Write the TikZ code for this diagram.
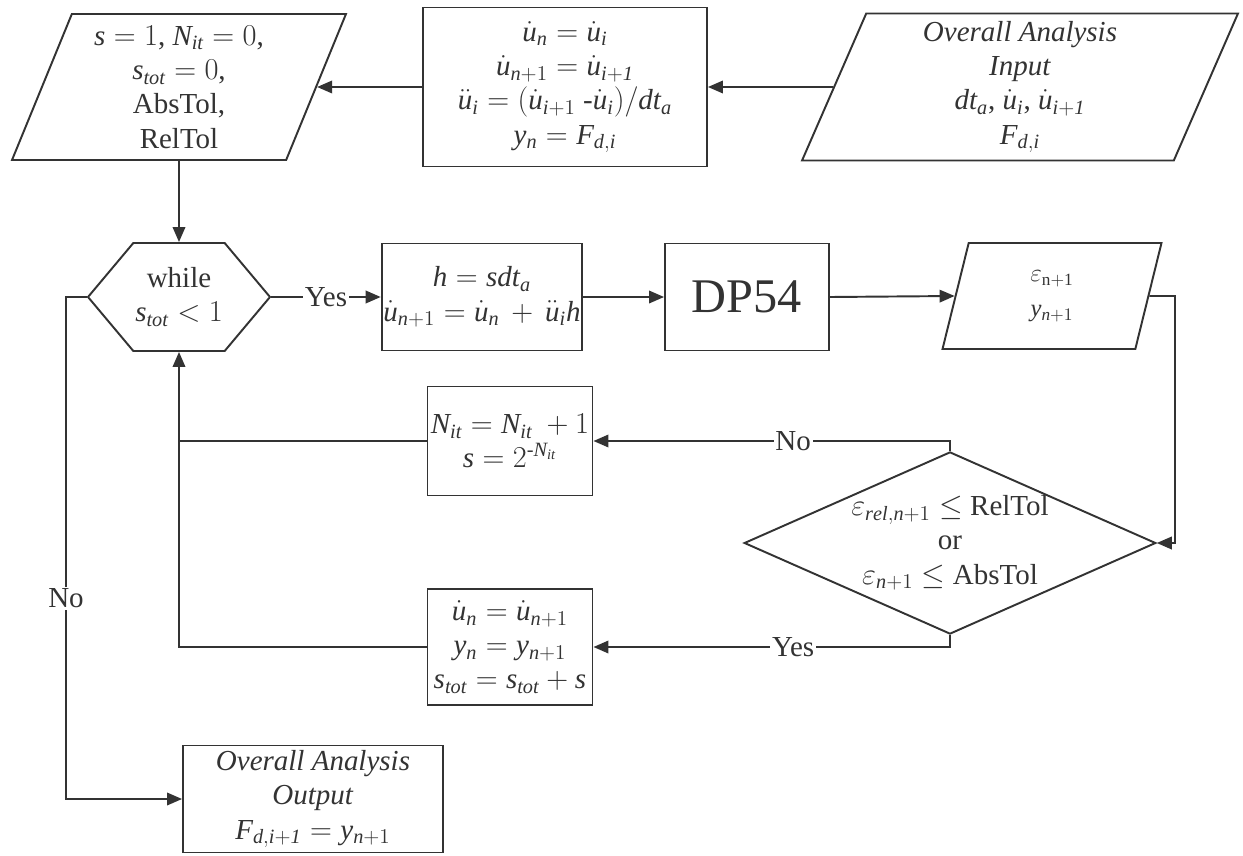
\documentclass[tikz,border=0pt]{standalone}
\usepackage{amsmath}
\usepackage{fontspec}
\setmainfont{Liberation Serif}
\usetikzlibrary{positioning,arrows.meta,calc,shapes.geometric,shapes.symbols}
\definecolor{ink}{HTML}{333333}

\begin{document}
\begin{tikzpicture}[
      x=0.02cm, y=-0.02cm,
      font=\fontsize{16.5}{19.5}\selectfont,
      flowbox/.style={draw=ink, line width=1.1pt, fill=white, text=ink,
                      rectangle, align=center, inner sep=1pt},
      iobox/.style={draw=ink, line width=1.1pt, fill=white, text=ink,
                    trapezium, trapezium stretches body, align=center,
                    inner sep=0pt, trapezium left angle=64,
                    trapezium right angle=116},
      loopbox/.style={draw=ink, line width=1.1pt, fill=white, text=ink,
                      signal, signal to=west and east, signal pointer angle=100,
                      align=center, inner sep=0pt},
      checkbox/.style={draw=ink, line width=1.1pt, fill=white, text=ink,
                       diamond, aspect=2.26, align=center, inner sep=0pt},
      link/.style={-{Triangle[length=3mm, width=2.5mm]}, line width=1.1pt, color=ink},
      plain/.style={line width=1.1pt, color=ink},
      lbl/.style={fill=white, text=ink, inner sep=1pt},
    ]
      \useasboundingbox (0,0) rectangle (1243,855);

      \node[iobox, minimum width=6.68cm, minimum height=2.92cm] (init) at (179,87) {
        $\mathit{s} = 1$, $\mathit{N_{it}} = 0$,\\
        $\mathit{s_{tot}} = 0$,\\
        AbsTol,\\
        RelTol
      };

      \node[flowbox, minimum width=5.68cm, minimum height=3.18cm] (update) at (565,87) {
        $\dot{\mathit{u}}_{\mathit{n}} = \dot{\mathit{u}}_{\mathit{i}}$\\
        $\dot{\mathit{u}}_{\mathit{n}+1} = \dot{\mathit{u}}_{\mathit{i+1}}$\\
        $\ddot{\mathit{u}}_{\mathit{i}} = (\dot{\mathit{u}}_{\mathit{i}+1}$ -$\dot{\mathit{u}}_{\mathit{i}})/\mathit{dt_a}$\\
        $\mathit{y_n} = \mathit{F_{d,i}}$
      };

      \node[iobox, minimum width=8.72cm, minimum height=2.94cm] (input) at (1020,87) {
        \textit{Overall Analysis}\\
        \textit{Input}\\
        $\mathit{dt_a}$, $\dot{\mathit{u}}_{\mathit{i}}$, $\dot{\mathit{u}}_{\mathit{i+1}}$\\
        $\mathit{F_{d,i}}$
      };

      \node[loopbox, minimum width=3.64cm, minimum height=2.16cm] (while) at (179,297) {
        while\\
        $\mathit{s_{tot}} < 1$
      };

      \node[flowbox, minimum width=3.78cm, minimum height=2.14cm] (stepsize) at (482,297) {
        $\mathit{h} = \mathit{sdt_a}$\\
        $\dot{\mathit{u}}_{\mathit{n}+1} = \dot{\mathit{u}}_{\mathit{n}}\, +\, \ddot{\mathit{u}}_{\mathit{i}}\mathit{h}$
      };

      \node[flowbox, minimum width=3.28cm, minimum height=2.14cm,
            font=\fontsize{27.5}{30}\selectfont] (dp) at (747,297) {DP54};

      \node[iobox, minimum width=4.38cm, minimum height=2.12cm,
            trapezium left angle=63, trapezium right angle=117,
            font=\fontsize{14}{20}\selectfont] (err) at (1052,296) {
        $\varepsilon_{\mathrm{n+1}}$\\
        $\mathit{y}_{\mathit{n}+1}$
      };

      \node[checkbox, minimum width=7.9cm, minimum height=3.5cm] (check) at (950,543) {
        $\varepsilon_{\mathit{rel,n}+1} \leq$ RelTol\\
        or\\
        $\varepsilon_{\mathit{n}+1} \leq$ AbsTol
      };

      \node[flowbox, minimum width=3.3cm, minimum height=2.18cm] (retry) at (510,441) {
        $\mathit{N_{it}} = \mathit{N_{it}}\ + 1$\\
        $\mathit{s} = 2^{\text{-}\mathit{N_{it}}}$
      };

      \node[flowbox, minimum width=3.3cm, minimum height=2.32cm] (accept) at (510,647) {
        $\dot{\mathit{u}}_{\mathit{n}} = \dot{\mathit{u}}_{\mathit{n}+1}$\\
        $\mathit{y_n} = \mathit{y}_{\mathit{n}+1}$\\
        $\mathit{s_{tot}} = \mathit{s_{tot}} + \mathit{s}$
      };

      \node[flowbox, minimum width=5.2cm, minimum height=2.14cm] (output) at (313,799) {
        \textit{Overall Analysis}\\
        \textit{Output}\\
        $\mathit{F_{d,i+1}} = \mathit{y}_{\mathit{n}+1}$
      };

      \coordinate (rjog) at (1175,296);
      \coordinate (ljog) at (66,297);
      \coordinate (loopjoin) at (while.south |- retry.west);

      \draw[link] (input.west) -- (update.east);
      \draw[link] (update.west) -- (init.east);
      \draw[link] (init.south) -- (while.north);
      \draw[link] (while.east) -- node[lbl]{Yes} (stepsize.west);
      \draw[link] (stepsize.east) -- (dp.west);
      \draw[link] (dp.east) -- (err.west);
      \draw[link] (err.east) -- (rjog) |- (check.east);
      \draw[link] (check.north) |- node[lbl, pos=0.72]{No} (retry.east);
      \draw[link] (check.south) |- node[lbl, pos=0.72]{Yes} (accept.east);
      \draw[link] (retry.west) -| (while.south);
      \draw[plain] (accept.west) -| (loopjoin);
      \draw[link] (while.west) -- (ljog) |- node[lbl, pos=0.30]{No} (output.west);

    \end{tikzpicture}
\end{document}
